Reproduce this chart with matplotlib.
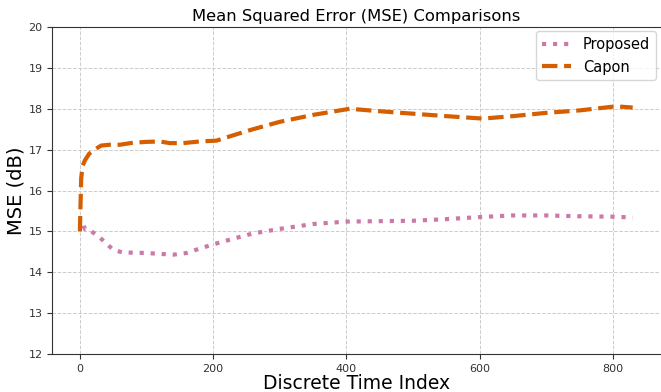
import matplotlib.pyplot as plt

# MSE traces over discrete time (dB)
t_capon = [0, 2, 4, 8, 14, 22, 32, 45, 60, 80, 100, 120, 135, 155, 180, 205,
           230, 260, 300, 350, 405, 450, 500, 550, 605, 650, 700, 750, 805, 830]
mse_capon = [15.0, 16.3, 16.6, 16.75, 16.9, 17.0, 17.1, 17.12, 17.12, 17.17, 17.19, 17.2, 17.16, 17.16, 17.2, 17.22,
             17.35, 17.5, 17.68, 17.85, 18.0, 17.94, 17.88, 17.82, 17.76, 17.82, 17.9, 17.96, 18.06, 18.03]

t_prop = [0, 2, 4, 8, 14, 20, 30, 40, 50, 65, 80, 100, 120, 140, 160, 180,
          200, 230, 260, 300, 350, 400, 450, 500, 550, 600, 650, 700, 750, 800, 830]
mse_prop = [15.05, 15.15, 15.22, 15.05, 15.05, 14.97, 14.85, 14.7, 14.55, 14.48, 14.48, 14.47, 14.45, 14.43, 14.47, 14.58,
            14.68, 14.82, 14.95, 15.06, 15.18, 15.24, 15.25, 15.26, 15.3, 15.35, 15.39, 15.39, 15.37, 15.36, 15.34]

fig, ax = plt.subplots(figsize=(6.61, 3.92), dpi=100)

ax.plot(t_prop, mse_prop, linestyle=":", color="#cc79a7", linewidth=3, label="Proposed")
ax.plot(t_capon, mse_capon, linestyle="--", color="#d55e00", linewidth=3, label="Capon")

ax.set_ylim(12, 20)
ax.set_xticks([0, 200, 400, 600, 800])
ax.tick_params(labelsize=8, colors="#333333")
ax.grid(True, linestyle="--", color="#cccccc", linewidth=0.7)
for s in ax.spines.values():
    s.set_color("#333333")
ax.spines["right"].set_visible(False)

ax.set_title("Mean Squared Error (MSE) Comparisons", fontsize=11.8, pad=4)
ax.set_xlabel("Discrete Time Index", fontsize=13.5, labelpad=0.5)
ax.set_ylabel("MSE (dB)", fontsize=14, labelpad=2)
ax.legend(loc="upper right", fontsize=10.5, borderaxespad=0.3)

fig.subplots_adjust(left=0.079, right=0.999, top=0.931, bottom=0.097)
fig.savefig("out.png", dpi=100)
